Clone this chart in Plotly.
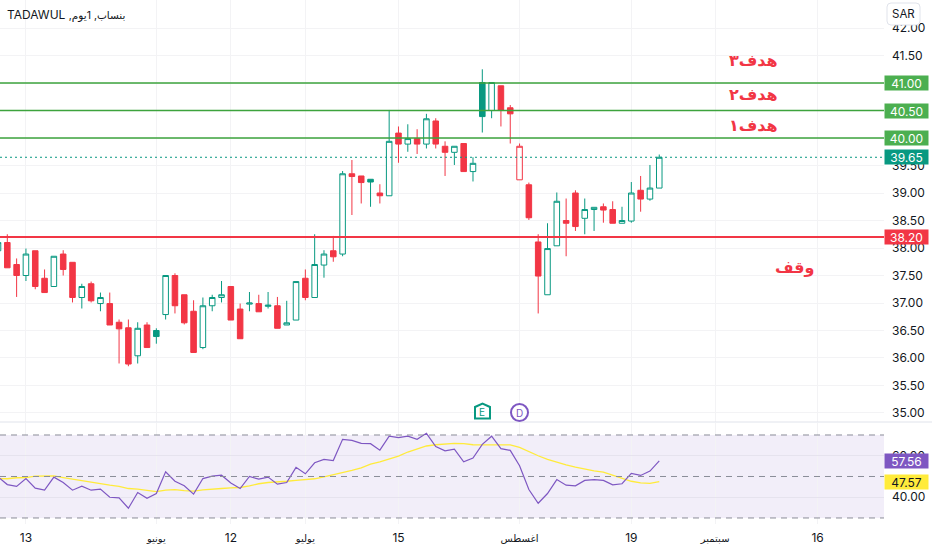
import plotly.graph_objects as go

open_price = [37.95, 38.10, 37.70, 37.50, 37.95, 37.45, 37.30, 37.89, 37.74, 37.10, 37.35, 36.99, 36.99, 36.65, 36.55, 36.04, 36.60, 36.50,
              36.79, 37.50, 37.15, 36.85, 36.19, 36.95, 37.10, 37.30, 36.89, 36.98, 36.99, 36.94, 36.95, 36.60, 36.69, 37.45, 37.10, 37.69,
              37.95, 37.89, 39.35, 39.31, 39.25, 39.00, 38.95, 40.09, 39.89, 39.99, 39.89, 40.31, 39.85, 39.74, 39.90, 39.39, 41.01, 40.50,
              40.95, 40.55, 39.24, 39.15, 38.11, 37.15, 38.04, 38.50, 39.00, 38.54, 38.70, 38.75, 38.70, 38.45, 38.49, 39.05, 38.89, 39.09]
high_price = [38.15, 38.25, 37.81, 37.99, 37.95, 37.61, 37.85, 37.96, 37.74, 37.35, 37.39, 37.19, 37.19, 36.70, 36.70, 36.65, 36.65, 36.54,
              37.50, 37.54, 37.15, 37.05, 37.10, 37.15, 37.40, 37.30, 36.99, 37.20, 37.15, 37.20, 37.11, 37.04, 37.39, 37.61, 38.25, 37.96,
              38.22, 39.40, 39.60, 39.31, 39.25, 39.16, 40.51, 40.21, 40.25, 40.16, 40.44, 40.36, 39.94, 39.85, 39.90, 39.65, 41.25, 41.01,
              40.95, 40.60, 39.90, 39.19, 38.25, 38.45, 39.01, 38.90, 39.05, 38.90, 38.74, 38.81, 38.85, 38.75, 39.20, 39.31, 39.51, 39.70]
low_price = [37.93, 37.64, 37.11, 37.40, 37.25, 37.19, 37.30, 37.50, 37.01, 36.90, 37.01, 36.85, 36.60, 35.90, 35.85, 35.90, 36.19, 36.26,
             36.70, 36.81, 36.61, 36.10, 36.16, 36.85, 37.01, 36.69, 36.35, 36.85, 36.84, 36.90, 36.54, 36.60, 36.69, 37.05, 37.10, 37.46,
             37.75, 37.85, 38.60, 38.81, 38.75, 38.81, 38.95, 39.55, 39.75, 39.71, 39.81, 39.81, 39.31, 39.51, 39.39, 39.21, 40.10, 40.36,
             40.21, 39.90, 39.24, 38.51, 36.81, 37.15, 38.04, 37.85, 38.31, 38.25, 38.31, 38.46, 38.45, 38.45, 38.46, 38.66, 38.86, 39.09]
close_price = [38.10, 37.64, 37.50, 37.89, 37.30, 37.19, 37.85, 37.61, 37.10, 37.30, 37.04, 37.10, 36.60, 36.53, 35.89, 36.54, 36.19, 36.39,
               37.50, 36.95, 36.64, 36.10, 36.95, 37.10, 37.15, 36.69, 36.35, 37.00, 36.84, 36.96, 36.54, 36.64, 37.39, 37.10, 37.70, 37.89,
               37.84, 39.35, 39.30, 39.19, 39.20, 38.95, 39.94, 39.89, 39.99, 39.89, 40.35, 39.89, 39.74, 39.85, 39.39, 39.54, 40.39, 41.01,
               40.50, 40.44, 39.85, 38.55, 37.49, 37.99, 38.85, 38.45, 38.39, 38.70, 38.74, 38.69, 38.45, 38.50, 39.00, 38.89, 39.09, 39.65]

rsi_values = [49.8, 46.1, 45.2, 49.0, 44.4, 43.4, 49.7, 47.1, 43.4, 45.3, 43.4, 43.9, 40.0, 39.7, 34.7, 42.3, 39.5, 41.8,
              52.3, 47.7, 45.5, 41.5, 49.0, 50.2, 50.6, 46.9, 44.2, 50.0, 48.7, 49.7, 46.3, 47.1, 54.4, 51.3, 56.6, 58.2,
              57.7, 67.9, 67.4, 66.0, 65.8, 62.7, 69.4, 68.7, 69.4, 67.9, 70.8, 64.4, 62.4, 63.2, 57.1, 58.9, 65.5, 69.4,
              63.4, 62.6, 55.2, 43.7, 37.1, 41.8, 48.5, 45.8, 45.5, 48.1, 48.5, 48.1, 46.0, 46.5, 51.5, 50.5, 52.6, 57.56]
rsi_ma = [49.0, 48.9, 49.4, 49.5, 50.2, 50.3, 50.3, 49.5, 48.7, 47.9, 47.1, 46.5, 45.8, 45.2, 44.2, 43.9, 43.4, 42.7,
          43.4, 43.7, 43.2, 42.9, 43.5, 43.7, 44.2, 44.5, 44.7, 45.5, 46.5, 47.1, 47.3, 47.7, 48.1, 48.4, 48.9, 49.8,
          50.8, 51.9, 52.9, 54.2, 56.0, 57.1, 58.4, 59.8, 61.8, 63.4, 64.7, 65.3, 65.8, 66.0, 65.8, 65.3, 65.2, 65.3,
          65.2, 65.2, 64.0, 61.9, 60.0, 58.2, 56.8, 55.6, 54.5, 53.5, 52.7, 52.1, 50.6, 49.0, 47.7, 46.9, 46.7, 47.57]

bars = list(range(len(close_price)))

time_ticks = [3, 17, 25, 33, 43, 56, 68, 77, 88]
time_labels = ["13", "<span style='font-size:10px'>يونيو</span>", "12", "<span style='font-size:10px'>يوليو</span>", "15",
               "<span style='font-size:10px'>اغسطس</span>", "19", "<span style='font-size:10px'>سبتمبر</span>", "16"]
price_ticks = [35, 35.5, 36, 36.5, 37, 37.5, 38, 38.5, 39, 39.5, 40, 40.5, 41, 41.5, 42]
price_labels = ["%.2f" % p for p in price_ticks]
rsi_ticks = [40, 60]
rsi_labels = ["40.00", "60.00"]

target_levels = [41.00, 40.50, 40.00]
stop_level = 38.20
last_price = 39.65
rsi_last = 57.56
ma_last = 47.57

GREEN = "#089981"
RED = "#F23645"
LEVEL_GREEN = "#4CAF50"
PURPLE = "#7E57C2"
YELLOW = "#FFEB3B"
GRID = "#f3f3f5"
TEXT = "#131722"
FONT = "Inter, 'DejaVu Sans', sans-serif"
W, H, PLOT_W, PLOT_H = 932, 550, 884, 524


def px_x(x):
    return x / PLOT_W


def px_y(y):
    return 1 - y / PLOT_H


fig = go.Figure()

# hollow candles: filled when close < open, green when close is above previous close
groups = {}
for i in bars:
    prev = close_price[i - 1] if i > 0 else open_price[i]
    color = GREEN if close_price[i] >= prev else RED
    hollow = close_price[i] >= open_price[i]
    groups.setdefault((color, hollow), []).append(i)

for (color, hollow), idx in groups.items():
    fill = "#ffffff" if hollow else color
    style = dict(line=dict(color=color, width=1), fillcolor=fill)
    fig.add_trace(go.Candlestick(
        x=idx,
        open=[open_price[i] for i in idx],
        high=[high_price[i] for i in idx],
        low=[low_price[i] for i in idx],
        close=[close_price[i] for i in idx],
        increasing=style, decreasing=style,
        whiskerwidth=0, showlegend=False, hoverinfo="skip",
        xaxis="x", yaxis="y",
    ))

fig.add_trace(go.Scatter(x=bars, y=rsi_ma, mode="lines", line=dict(color=YELLOW, width=1.3),
                         showlegend=False, xaxis="x2", yaxis="y2"))
fig.add_trace(go.Scatter(x=bars, y=rsi_values, mode="lines", line=dict(color=PURPLE, width=1.2),
                         showlegend=False, xaxis="x2", yaxis="y2"))

shapes = []
# rsi band and its dashed levels
shapes.append(dict(type="rect", xref="paper", x0=0, x1=1, yref="y2", y0=30, y1=70,
                   fillcolor="rgba(126,87,194,0.1)", line_width=0, layer="below"))
for level in [70, 50, 30]:
    shapes.append(dict(type="line", xref="paper", x0=0, x1=1, yref="y2", y0=level, y1=level,
                       line=dict(color="#8a8d98", width=1, dash="6px,5px")))
# pane separator
shapes.append(dict(type="line", xref="paper", x0=0, x1=px_x(W), yref="paper", y0=px_y(422), y1=px_y(422),
                   line=dict(color="#e0e3eb", width=1)))
# price levels
for level in target_levels:
    shapes.append(dict(type="line", xref="paper", x0=0, x1=1, yref="y", y0=level, y1=level,
                       line=dict(color="#3DA33D", width=1.5)))
shapes.append(dict(type="line", xref="paper", x0=0, x1=1, yref="y", y0=stop_level, y1=stop_level,
                   line=dict(color=RED, width=2)))
shapes.append(dict(type="line", xref="paper", x0=0, x1=1, yref="y", y0=last_price, y1=last_price,
                   line=dict(color=GREEN, width=1, dash="2px,3px")))

# currency button
x0, x1, y0, y1, r = px_x(887), px_x(920), px_y(3), px_y(25), 4
rx, ry = r / PLOT_W, r / PLOT_H
shapes.append(dict(type="path", xref="paper", yref="paper", fillcolor="#ffffff",
                   line=dict(color="#e0e3eb", width=1),
                   path=f"M {x0+rx} {y0} L {x1-rx} {y0} Q {x1} {y0} {x1} {y0-ry} L {x1} {y1+ry} Q {x1} {y1} {x1-rx} {y1} "
                        f"L {x0+rx} {y1} Q {x0} {y1} {x0} {y1+ry} L {x0} {y0-ry} Q {x0} {y0} {x0+rx} {y0} Z"))

# earnings and dividend flags
shapes.append(dict(type="path", xref="paper", yref="paper", fillcolor="#ffffff",
                   line=dict(color=GREEN, width=2),
                   path=f"M {px_x(475)} {px_y(407)} L {px_x(482.5)} {px_y(403.5)} L {px_x(490)} {px_y(407)} "
                        f"L {px_x(490)} {px_y(418.5)} L {px_x(475)} {px_y(418.5)} Z"))
shapes.append(dict(type="circle", xref="paper", yref="paper", fillcolor="#ffffff",
                   line=dict(color=PURPLE, width=2),
                   x0=px_x(511), x1=px_x(528), y0=px_y(421), y1=px_y(404)))

annotations = []


def price_tag(value, yref, bg, fg="#ffffff"):
    annotations.append(dict(x=1, xref="paper", y=value, yref=yref, xanchor="left", yanchor="middle",
                            text="%.2f" % value, showarrow=False, bgcolor=bg, width=43, height=14,
                            borderpad=0, align="center", font=dict(family=FONT, size=12, color=fg)))


for level in target_levels:
    price_tag(level, "y", LEVEL_GREEN)
price_tag(stop_level, "y", RED)
price_tag(last_price, "y", GREEN)
price_tag(rsi_last, "y2", PURPLE)
price_tag(ma_last, "y2", YELLOW, TEXT)


def pane_text(text, x, y, size, color, anchor="center", family=FONT):
    annotations.append(dict(x=px_x(x), y=px_y(y), xref="paper", yref="paper", text=text, showarrow=False,
                            xanchor=anchor, yanchor="middle", font=dict(family=family, size=size, color=color)))


pane_text("\u202B<span style='font-size:10.5px'>بنساب, 1يوم,</span> TADAWUL\u202C", 5, 15, 12, TEXT, "left")
pane_text("SAR", 903.5, 14, 11.5, TEXT)
pane_text("E", 482.5, 412, 10, GREEN)
pane_text("D", 519.5, 412.5, 10, PURPLE)

for text, x, y in [("هدف٣", 753, 61), ("هدف٢", 753, 94), ("هدف١", 753, 125), ("وقف", 794, 267)]:
    pane_text("<b>" + text + "</b>", x, y, 16, RED, family="'DejaVu Sans'")

fig.update_layout(
    width=W, height=H,
    margin=dict(l=0, r=W - PLOT_W, t=0, b=H - PLOT_H),
    paper_bgcolor="#ffffff", plot_bgcolor="#ffffff",
    font=dict(family=FONT, size=12, color=TEXT),
    showlegend=False,
    boxgap=0.15,
    shapes=shapes, annotations=annotations,
    xaxis=dict(domain=[0, 1], range=[0.215, 95.13], anchor="y", rangeslider=dict(visible=False),
               tickvals=time_ticks, showticklabels=False, showgrid=True, gridcolor=GRID, zeroline=False, ticks=""),
    xaxis2=dict(domain=[0, 1], range=[0.215, 95.13], anchor="y2",
                tickvals=time_ticks, ticktext=time_labels, showgrid=True, gridcolor=GRID, zeroline=False,
                ticks="", tickfont=dict(size=12, color=TEXT), ticklabelstandoff=5),
    yaxis=dict(domain=[px_y(422), 1], range=[34.836, 42.51], side="right", anchor="x",
               tickvals=price_ticks, ticktext=price_labels, showgrid=True, gridcolor=GRID, zeroline=False,
               ticks="", ticklabelstandoff=7, tickfont=dict(size=12, color=TEXT)),
    yaxis2=dict(domain=[0, px_y(423)], range=[27.1, 75.78], side="right", anchor="x2",
                tickvals=rsi_ticks, ticktext=rsi_labels, showgrid=True, gridcolor="#e6e3ee", zeroline=False,
                ticks="", ticklabelstandoff=7, tickfont=dict(size=12, color=TEXT)),
)

# the default page has an 8px body margin, drop it so the figure fills the window
fig.write_html("out.html", config={"displayModeBar": False}, post_script="document.body.style.margin = '0';")
